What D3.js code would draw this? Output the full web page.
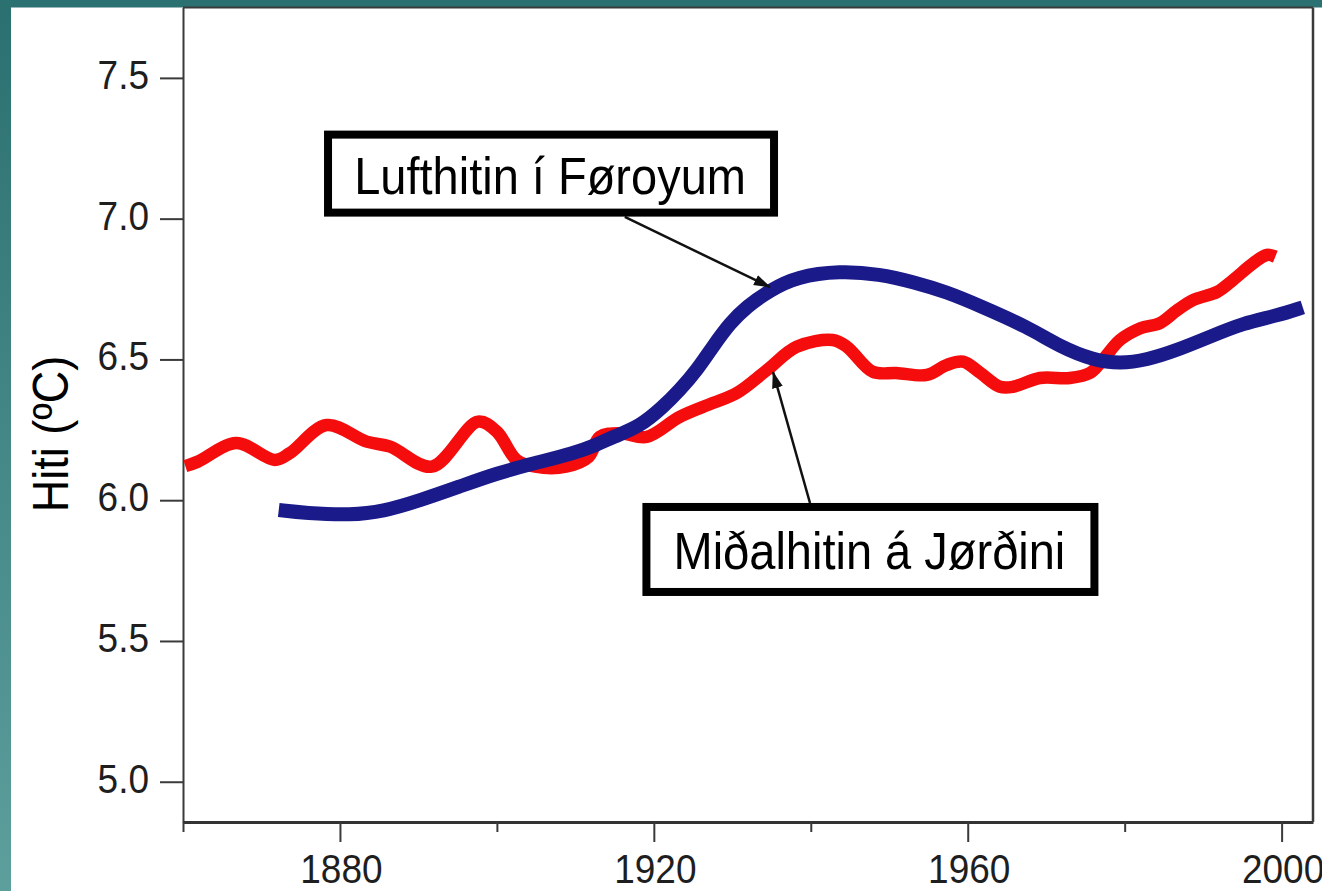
<!DOCTYPE html>
<html>
<head>
<meta charset="utf-8">
<script src="https://cdn.jsdelivr.net/npm/d3@7"></script>
<style>
  body { margin: 0; background: #fff; }
  text { font-family: "Liberation Sans", Arial, sans-serif; fill: #1e1e1e; }
</style>
</head>
<body>
<svg id="chart"></svg>
<script>
// Canvas size
const width = 1322, height = 891;

// Miðalhitin á Jørðini (red curve)
const redYears = [1860.3, 1861.9, 1866.8, 1871.7, 1873.6, 1878.3, 1883.4, 1886.4, 1891.7, 1897.6,
  1900.0, 1902.5, 1904.9, 1908.8, 1911.7, 1913.1, 1915.7, 1919.1, 1923.3, 1927.5,
  1930.6, 1934.4, 1938.2, 1942.8, 1944.6, 1947.9, 1950.9, 1954.8, 1957.3, 1959.4,
  1961.6, 1964.1, 1965.8, 1969.2, 1973.0, 1975.6, 1977.2, 1979.4, 1982.0, 1984.5,
  1986.7, 1988.7, 1991.8, 1993.8, 1996.4, 1998.1, 1999.2];
const redTemps = [6.121, 6.137, 6.203, 6.143, 6.167, 6.267, 6.208, 6.190, 6.119, 6.279,
  6.243, 6.143, 6.119, 6.119, 6.154, 6.225, 6.238, 6.225, 6.296, 6.345,
  6.381, 6.462, 6.545, 6.569, 6.545, 6.456, 6.452, 6.445, 6.480, 6.492,
  6.452, 6.403, 6.403, 6.434, 6.434, 6.452, 6.498, 6.569, 6.611, 6.629,
  6.675, 6.711, 6.740, 6.782, 6.842, 6.871, 6.865];

// Lufthitin í Føroyum (blue curve)
const blueYears = [1872.2, 1875.6, 1881.5, 1885.4, 1890.3, 1895.2, 1900.0, 1904.9, 1909.8, 1912.7,
  1914.8, 1918.2, 1921.2, 1923.3, 1925.5, 1927.5, 1929.7, 1931.8, 1934.8, 1938.2,
  1943.7, 1948.8, 1953.0, 1957.3, 1961.6, 1967.6, 1971.8, 1976.0, 1979.4, 1982.8,
  1986.7, 1990.9, 1995.1, 1999.4, 2002.7];
const blueTemps = [5.965, 5.954, 5.947, 5.959, 6.000, 6.048, 6.096, 6.132, 6.167, 6.196,
  6.225, 6.261, 6.332, 6.391, 6.462, 6.545, 6.629, 6.687, 6.746, 6.794,
  6.815, 6.803, 6.776, 6.740, 6.690, 6.616, 6.545, 6.498, 6.485, 6.498,
  6.533, 6.581, 6.629, 6.655, 6.685];

// Axis ticks
const yTicks = [5.0, 5.5, 6.0, 6.5, 7.0, 7.5];
const xMajorTicks = [1880, 1920, 1960, 2000];
const xMinorTicks = [1860, 1900, 1940, 1980];
const yTitle = "Hiti (ºC)";

// Annotation boxes with arrows (data coordinates)
const labels = ["Lufthitin í Føroyum", "Miðalhitin á Jørðini"];
const labelCenters = [[1906.9, 7.16], [1947.6, 5.825]];
const arrowStarts = [[1916.3, 7.006], [1939.9, 5.99]];
const arrowTips = [[1934.8, 6.757], [1935.2, 6.455]];

const svg = d3.select("#chart")
    .attr("width", width)
    .attr("height", height);

// Teal slide background strips
const defs = svg.append("defs");
const grad = defs.append("linearGradient")
    .attr("id", "teal").attr("x1", 0).attr("y1", 0).attr("x2", 0).attr("y2", 1);
grad.append("stop").attr("offset", "0%").attr("stop-color", "#2b7070");
grad.append("stop").attr("offset", "100%").attr("stop-color", "#5c9f9d");

svg.append("rect").attr("width", width).attr("height", height).attr("fill", "#fff");
svg.append("rect").attr("x", 0).attr("y", 0).attr("width", 11).attr("height", height).attr("fill", "url(#teal)");
svg.append("rect").attr("x", 0).attr("y", 0).attr("width", width).attr("height", 7.5).attr("fill", "#2c7171");

// Arrow marker
defs.append("marker")
    .attr("id", "arrow")
    .attr("markerUnits", "userSpaceOnUse")
    .attr("viewBox", "0 -6 17 12")
    .attr("refX", 16).attr("refY", 0)
    .attr("markerWidth", 17).attr("markerHeight", 12)
    .attr("orient", "auto")
    .append("path")
    .attr("d", "M0,-5.5L17,0L0,5.5Z")
    .attr("fill", "#111");

// Scales
const x = d3.scaleLinear().domain([1860, 2004]).range([183, 1313]);
const y = d3.scaleLinear().domain([4.857, 7.75]).range([822, 7.5]);

const stretch = "scale(1,1.09)";

// Y axis
const yAxis = svg.append("g")
    .attr("transform", `translate(${x(1860)},0)`)
    .call(d3.axisLeft(y).tickValues(yTicks).tickFormat(d3.format(".1f")).tickSize(23).tickSizeOuter(0));
yAxis.select(".domain").attr("stroke", "#3a3a3a").attr("stroke-width", 2);
yAxis.selectAll(".tick line").attr("stroke", "#3a3a3a").attr("stroke-width", 2);
yAxis.selectAll(".tick text")
    .attr("x", null).attr("dy", null)
    .attr("transform", `translate(-34,10.5) ${stretch}`)
    .attr("font-size", 37)
    .style("fill", "#1e1e1e");

// X axis (labelled majors)
const xAxis = svg.append("g")
    .attr("transform", `translate(0,${y.range()[0]})`)
    .call(d3.axisBottom(x).tickValues(xMajorTicks).tickFormat(d3.format("d")).tickSize(20).tickSizeOuter(0));
xAxis.select(".domain").attr("stroke", "#333").attr("stroke-width", 3);
xAxis.selectAll(".tick line").attr("stroke", "#3a3a3a").attr("stroke-width", 2);
xAxis.selectAll(".tick text")
    .attr("y", null).attr("dy", null)
    .attr("transform", `translate(1,61) ${stretch}`)
    .attr("font-size", 37)
    .style("fill", "#1e1e1e");

// X axis minor ticks
svg.append("g")
    .attr("transform", `translate(0,${y.range()[0]})`)
    .call(d3.axisBottom(x).tickValues(xMinorTicks).tickFormat("").tickSize(10).tickSizeOuter(0))
    .call(g => g.select(".domain").remove())
    .selectAll(".tick line").attr("stroke", "#3a3a3a").attr("stroke-width", 2);

// Frame: top and right
svg.append("line")
    .attr("x1", x(1860)).attr("x2", x(2004)).attr("y1", y(7.75)).attr("y2", y(7.75))
    .attr("stroke", "#3a3a3a").attr("stroke-width", 2);
svg.append("line")
    .attr("x1", x(2004)).attr("x2", x(2004)).attr("y1", y(7.75)).attr("y2", y(4.857))
    .attr("stroke", "#3a3a3a").attr("stroke-width", 2.5);

// Y title
svg.append("text")
    .attr("transform", "translate(68,434) rotate(-90) scale(1,1.1)")
    .attr("text-anchor", "middle")
    .attr("font-size", 45)
    .style("fill", "#000")
    .text(yTitle);

// Curves
const redLine = d3.line()
    .x(d => x(d[0]))
    .y(d => y(d[1]))
    .curve(d3.curveCatmullRom.alpha(0.5));

const blueLine = d3.line()
    .x(d => x(d[0]))
    .y(d => y(d[1]))
    .curve(d3.curveBasis);

svg.append("path")
    .datum(d3.zip(redYears, redTemps))
    .attr("d", redLine)
    .attr("fill", "none")
    .attr("stroke", "#f50d0d")
    .attr("stroke-width", 12.5)
    .attr("stroke-linejoin", "round");

svg.append("path")
    .datum(d3.zip(blueYears, blueTemps))
    .attr("d", blueLine)
    .attr("fill", "none")
    .attr("stroke", "#1b1a8a")
    .attr("stroke-width", 14)
    .attr("stroke-linejoin", "round");

// Annotation arrows
svg.selectAll(".arrow")
    .data(d3.range(labels.length))
    .enter().append("line")
    .attr("class", "arrow")
    .attr("x1", i => x(arrowStarts[i][0]))
    .attr("y1", i => y(arrowStarts[i][1]))
    .attr("x2", i => x(arrowTips[i][0]))
    .attr("y2", i => y(arrowTips[i][1]))
    .attr("stroke", "#111")
    .attr("stroke-width", 2.5)
    .attr("marker-end", "url(#arrow)");

// Annotation boxes
const boxW = [454, 456], boxH = [86, 93], border = 8;
const boxes = svg.selectAll(".label")
    .data(d3.range(labels.length))
    .enter().append("g")
    .attr("class", "label")
    .attr("transform", i => `translate(${x(labelCenters[i][0])},${y(labelCenters[i][1])})`);

boxes.append("rect")
    .attr("x", i => -boxW[i] / 2 + border / 2)
    .attr("y", i => -boxH[i] / 2 + border / 2)
    .attr("width", i => boxW[i] - border)
    .attr("height", i => boxH[i] - border)
    .attr("fill", "#fff")
    .attr("stroke", "#000")
    .attr("stroke-width", border);

boxes.append("text")
    .attr("transform", `translate(-1,20) ${stretch}`)
    .attr("text-anchor", "middle")
    .attr("font-size", 47)
    .style("fill", "#000")
    .text(i => labels[i]);
</script>
</body>
</html>
